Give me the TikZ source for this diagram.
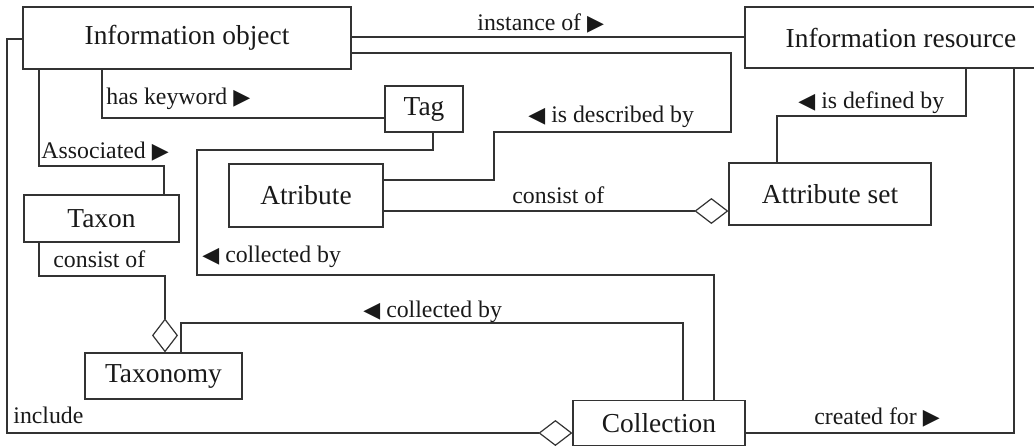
\documentclass[tikz,border=0pt]{standalone}
\usepackage{fontspec}
\setmainfont{Liberation Serif}
\newfontfamily\symfont{DejaVu Sans}
\usepackage{tikz}
\usetikzlibrary{arrows.meta}
\usepackage{xcolor}

\newcommand{\rtri}{{\symfont\fontsize{11}{11}\selectfont ▶}}
\newcommand{\ltri}{{\symfont\fontsize{11}{11}\selectfont ◀}}

\tikzset{
  box/.style={draw=black!80, line width=0.6pt, inner sep=0pt, text=black!90, font=\fontsize{13.7}{16}\selectfont},
  lbl/.style={anchor=base west, inner sep=0pt, text=black!90, font=\fontsize{11.9}{14}\selectfont},
  link/.style={draw=black!80, line width=0.6pt},
  agg/.style={link, -{Diamond[open, length=17pt, width=13pt]}}
}

\begin{document}
\begin{tikzpicture}[x=0.5pt, y=-0.5pt]
                \useasboundingbox (0,0) rectangle (1034,447);

                \node[box, minimum width=164pt, minimum height=31pt] (io) at (187, 38) {Information object};
                \node[box, minimum width=156pt, minimum height=30.5pt] (ir) at (901, 37.5) {Information resource};
                \node[box, minimum width=39pt, minimum height=23pt] (tag) at (424, 109) {Tag};
                \node[box, minimum width=77pt, minimum height=31.5pt] (atr) at (306, 195.5) {Atribute};
                \node[box, minimum width=101pt, minimum height=31pt] (aset) at (830, 194) {Attribute set};
                \node[box, minimum width=77.5pt, minimum height=23.5pt] (taxon) at (101.5, 218.5) {Taxon};
                \node[box, minimum width=78.5pt, minimum height=23pt] (taxonomy) at (163.5, 376) {Taxonomy};
                \node[box, minimum width=86pt, minimum height=22.5pt] (coll) at (659, 423) {Collection};

                \node[lbl] (instof) at (477, 30) {instance of \rtri};
                \node[lbl] (haskw) at (106, 104) {has keyword \rtri};
                \node[lbl] (assoc) at (41, 158) {Associated \rtri};
                \node[lbl] (descr) at (528, 122) {\ltri{} is described by};
                \node[lbl] (defd) at (798, 108) {\ltri{} is defined by};
                \node[lbl] (consa) at (512, 203) {consist of};
                \node[lbl] (colla) at (202, 262) {\ltri{} collected by};
                \node[lbl] (const) at (53, 267) {consist of};
                \node[lbl] (collt) at (363, 317) {\ltri{} collected by};
                \node[lbl] (incl) at (13, 423) {include};
                \node[lbl] (crfor) at (814, 424) {created for \rtri};

                \draw[link]
                (io.east |- 0,37) -- (ir.west |- 0,37)
                (io.east |- 0,53) -| (731,132) -| (494,180) -- (atr.east |- 0,180)
                (io.south -| 102,0) |- (tag.west |- 0,118)
                (io.south -| 39,0) |- (164,166) -- (taxon.north -| 164,0)
                (tag.south -| 433,0) |- (197,150) |- (714,275) -- (coll.north -| 714,0)
                (taxonomy.north -| 181,0) |- (683,323) -- (coll.north -| 683,0)
                (ir.south -| 966,0) |- (777,116) -- (aset.north -| 777,0)
                (ir.south -| 1014,0) |- (coll.east |- 0,433);

                \draw[agg] (io.west |- 0,39) -| (7,433) -- (coll.west |- 0,433);
                \draw[agg] (taxon.south -| 39,0) |- (165,276) -- (taxonomy.north -| 165,0);
                \draw[agg] (atr.east |- 0,211) -- (aset.west |- 0,211);
            \end{tikzpicture}
\end{document}
